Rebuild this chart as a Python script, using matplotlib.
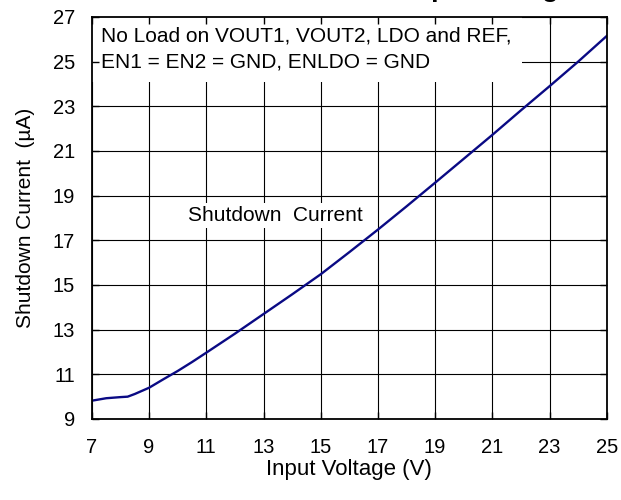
import matplotlib
matplotlib.use("Agg")
import matplotlib.pyplot as plt

# input voltage (V) vs shutdown current (uA)
vin = [7.0, 7.5, 8.0, 8.25, 8.5, 9.0, 9.5, 10.0, 10.5, 11.0, 12.0, 13.0, 14.0,
       15.0, 16.0, 17.0, 18.0, 19.0, 20.0, 21.0, 22.0, 23.0, 24.0, 25.0]
i_sd = [9.82, 9.93, 9.98, 10.0, 10.12, 10.4, 10.78, 11.15, 11.55, 11.97, 12.82,
        13.7, 14.58, 15.48, 16.47, 17.48, 18.52, 19.58, 20.65, 21.72,
        22.82, 23.9, 25.0, 26.15]

x_ticks = list(range(7, 26, 2))
y_ticks = list(range(9, 28, 2))

title = "Shutdown Current vs. Input Voltage"
note = "No Load on VOUT1, VOUT2, LDO and REF,\nEN1 = EN2 = GND, ENLDO = GND"
curve_label = "Shutdown  Current"

plt.rcParams['font.family'] = ['Liberation Sans', 'DejaVu Sans']

fig = plt.figure(figsize=(6.21, 5.0), dpi=100)
ax = fig.add_axes([0.148, 0.162, 0.829, 0.804])

# grid drawn by hand so the white text boxes can sit over it but under the ticks
for xv in x_ticks:
    ax.axvline(xv, color='black', lw=0.8, zorder=0.6)
for yv in y_ticks:
    ax.axhline(yv, color='black', lw=0.8, zorder=0.6)

ax.plot(vin, i_sd, color='#0A0A84', lw=1.7, zorder=2)

ax.text(0.017, 0.977, note, transform=ax.transAxes, fontsize=15,
        va='top', ha='left', linespacing=1.5, zorder=1,
        bbox=dict(boxstyle='square,pad=0.5', facecolor='white', edgecolor='none'))
ax.text(13.43, 18.1, curve_label, fontsize=15, ha='center', va='center',
        zorder=1, bbox=dict(boxstyle='square,pad=0.15', facecolor='white',
                            edgecolor='none'))

ax.set_xlim(7, 25)
ax.set_ylim(9, 27)
ax.set_xticks(x_ticks)
ax.set_yticks(y_ticks)
ax.tick_params(direction='in', length=5, width=1, labelsize=14.5,
               top=True, right=True)
ax.tick_params(axis='x', pad=14)
ax.tick_params(axis='y', pad=12)
for s in ax.spines.values():
    s.set_linewidth(1.3)

ax.set_xlabel("Input Voltage (V)", fontsize=16, labelpad=1)
ax.set_ylabel("Shutdown Current  (\u00b5A)", fontsize=15, labelpad=13)

# title sits mostly above the top edge; only descenders show, as in the reference
fig.text(0.5635, 1 + 3.5 / 500, title, fontsize=19, fontweight='bold',
         ha='center', va='baseline')

fig.savefig("out.png", dpi=100)
